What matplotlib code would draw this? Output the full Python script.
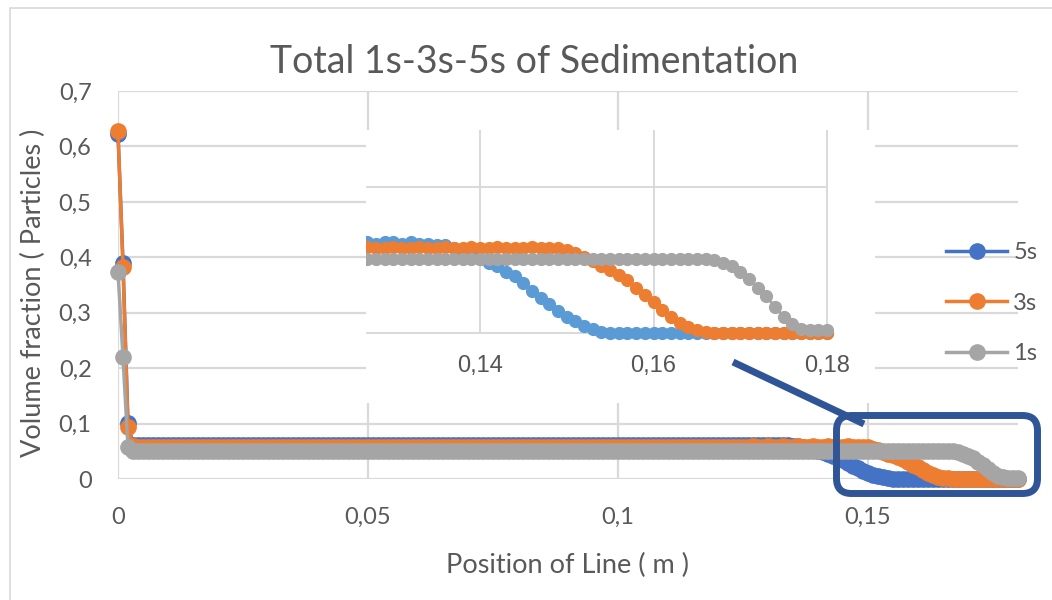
#!/usr/bin/env python3
"""
Sedimentation profiles: particle volume fraction along the line
after 1 s, 3 s and 5 s, with a zoomed view of the settling front.
"""

import numpy as np
import matplotlib.pyplot as plt
from matplotlib.lines import Line2D
from matplotlib.patches import Rectangle, FancyBboxPatch
from matplotlib.ticker import FuncFormatter
from matplotlib.transforms import IdentityTransform

W, H, DPI = 1052, 600, 100

# sample positions along the line (m)
position_m = np.linspace(0.0, 0.18, 181)

# volume fraction of particles at each position
frac_5s = [
    0.622, 0.390, 0.101, 0.062, 0.061, 0.061, 0.061, 0.061, 0.061, 0.061, 0.061, 0.061, 0.061, 0.061, 0.061,
    0.061, 0.061, 0.061, 0.061, 0.061, 0.061, 0.061, 0.061, 0.061, 0.061, 0.061, 0.061, 0.061, 0.061, 0.061,
    0.061, 0.061, 0.061, 0.061, 0.061, 0.061, 0.061, 0.061, 0.061, 0.061, 0.061, 0.061, 0.061, 0.061, 0.061,
    0.061, 0.061, 0.061, 0.061, 0.061, 0.061, 0.061, 0.061, 0.061, 0.061, 0.061, 0.061, 0.061, 0.061, 0.061,
    0.061, 0.061, 0.061, 0.061, 0.061, 0.061, 0.061, 0.061, 0.061, 0.061, 0.061, 0.061, 0.061, 0.061, 0.061,
    0.061, 0.061, 0.061, 0.061, 0.061, 0.061, 0.061, 0.061, 0.061, 0.061, 0.061, 0.061, 0.061, 0.061, 0.061,
    0.061, 0.061, 0.061, 0.061, 0.061, 0.061, 0.061, 0.061, 0.061, 0.061, 0.061, 0.061, 0.061, 0.061, 0.061,
    0.061, 0.061, 0.061, 0.061, 0.061, 0.061, 0.061, 0.061, 0.061, 0.061, 0.061, 0.061, 0.061, 0.061, 0.061,
    0.061, 0.061, 0.061, 0.061, 0.061, 0.061, 0.061, 0.062, 0.061, 0.062, 0.062, 0.061, 0.062, 0.061, 0.061,
    0.060, 0.060, 0.058, 0.056, 0.053, 0.051, 0.048, 0.046, 0.042, 0.039, 0.034, 0.029, 0.024, 0.020, 0.015,
    0.011, 0.008, 0.005, 0.003, 0.001, 0.000, 0.000, 0.000, 0.000, 0.000, 0.000, 0.000, 0.000, 0.000, 0.000,
    0.000, 0.000, 0.000, 0.000, 0.000, 0.000, 0.000, 0.000, 0.000, 0.000, 0.000, 0.000, 0.000, 0.000, 0.000,
    0.000,
]
frac_3s = [
    0.627, 0.383, 0.093, 0.059, 0.058, 0.058, 0.058, 0.058, 0.058, 0.058, 0.058, 0.058, 0.058, 0.058, 0.058,
    0.058, 0.058, 0.058, 0.058, 0.058, 0.058, 0.058, 0.058, 0.058, 0.058, 0.058, 0.058, 0.058, 0.058, 0.058,
    0.058, 0.058, 0.058, 0.058, 0.058, 0.058, 0.058, 0.058, 0.058, 0.058, 0.058, 0.058, 0.058, 0.058, 0.058,
    0.058, 0.058, 0.058, 0.058, 0.058, 0.058, 0.058, 0.058, 0.058, 0.058, 0.058, 0.058, 0.058, 0.058, 0.058,
    0.058, 0.058, 0.058, 0.058, 0.058, 0.058, 0.058, 0.058, 0.058, 0.058, 0.058, 0.058, 0.058, 0.058, 0.058,
    0.058, 0.058, 0.058, 0.058, 0.058, 0.058, 0.058, 0.058, 0.058, 0.058, 0.058, 0.058, 0.058, 0.058, 0.058,
    0.058, 0.058, 0.058, 0.058, 0.058, 0.058, 0.058, 0.058, 0.058, 0.058, 0.058, 0.058, 0.058, 0.058, 0.058,
    0.058, 0.058, 0.058, 0.058, 0.058, 0.058, 0.058, 0.058, 0.058, 0.058, 0.058, 0.058, 0.058, 0.058, 0.058,
    0.058, 0.058, 0.058, 0.058, 0.058, 0.058, 0.058, 0.059, 0.058, 0.058, 0.059, 0.058, 0.058, 0.059, 0.058,
    0.058, 0.059, 0.058, 0.058, 0.059, 0.058, 0.058, 0.059, 0.058, 0.058, 0.058, 0.059, 0.058, 0.058, 0.058,
    0.057, 0.055, 0.052, 0.049, 0.046, 0.043, 0.040, 0.036, 0.031, 0.026, 0.021, 0.016, 0.011, 0.007, 0.004,
    0.002, 0.001, 0.000, 0.000, 0.000, 0.000, 0.000, 0.000, 0.000, 0.000, 0.000, 0.000, 0.000, 0.000, 0.000,
    0.000,
]
frac_1s = [
    0.374, 0.220, 0.057, 0.051, 0.051, 0.051, 0.051, 0.051, 0.051, 0.051, 0.051, 0.051, 0.051, 0.051, 0.051,
    0.051, 0.051, 0.051, 0.051, 0.051, 0.051, 0.051, 0.051, 0.051, 0.051, 0.051, 0.051, 0.051, 0.051, 0.051,
    0.051, 0.051, 0.051, 0.051, 0.051, 0.051, 0.051, 0.051, 0.051, 0.051, 0.051, 0.051, 0.051, 0.051, 0.051,
    0.051, 0.051, 0.051, 0.051, 0.051, 0.051, 0.051, 0.051, 0.051, 0.051, 0.051, 0.051, 0.051, 0.051, 0.051,
    0.051, 0.051, 0.051, 0.051, 0.051, 0.051, 0.051, 0.051, 0.051, 0.051, 0.051, 0.051, 0.051, 0.051, 0.051,
    0.051, 0.051, 0.051, 0.051, 0.051, 0.051, 0.051, 0.051, 0.051, 0.051, 0.051, 0.051, 0.051, 0.051, 0.051,
    0.051, 0.051, 0.051, 0.051, 0.051, 0.051, 0.051, 0.051, 0.051, 0.051, 0.051, 0.051, 0.051, 0.051, 0.051,
    0.051, 0.051, 0.051, 0.051, 0.051, 0.051, 0.051, 0.051, 0.051, 0.051, 0.051, 0.051, 0.051, 0.051, 0.051,
    0.051, 0.051, 0.051, 0.051, 0.051, 0.051, 0.051, 0.051, 0.051, 0.051, 0.051, 0.051, 0.051, 0.051, 0.051,
    0.051, 0.051, 0.051, 0.051, 0.051, 0.051, 0.051, 0.051, 0.051, 0.051, 0.051, 0.051, 0.051, 0.051, 0.051,
    0.051, 0.051, 0.051, 0.051, 0.051, 0.051, 0.051, 0.051, 0.051, 0.051, 0.051, 0.051, 0.051, 0.051, 0.051,
    0.051, 0.051, 0.050, 0.048, 0.046, 0.042, 0.037, 0.031, 0.025, 0.018, 0.011, 0.006, 0.003, 0.002, 0.002,
    0.002,
]

series_labels = ["5s", "3s", "1s"]
series_colors = ["#4472C4", "#ED7D31", "#A5A5A5"]
inset_colors = ["#5B9BD5", "#ED7D31", "#A5A5A5"]

main_xticks = [0, 0.05, 0.1, 0.15]
main_yticks = [0, 0.1, 0.2, 0.3, 0.4, 0.5, 0.6, 0.7]
inset_xticks = [0.14, 0.16, 0.18]
inset_ygrid = [0, 0.1]

TEXT = "#595959"
GRID = "#D9D9D9"
NAVY = "#2F5597"
plt.rcParams['font.family'] = ['Lato', 'DejaVu Sans']


def fig_box(x0, y0, x1, y1):
    """Pixel box (top-left origin) -> figure fraction rect"""
    return [x0 / W, 1 - y1 / H, (x1 - x0) / W, (y1 - y0) / H]


def comma(v, _pos=None):
    return f"{v:g}".replace(".", ",")


def main():
    fig = plt.figure(figsize=(W / DPI, H / DPI), dpi=DPI)
    series = [frac_5s, frac_3s, frac_1s]

    # chart area border
    fig.patches.append(Rectangle((10 / W, -0.1), 1.2, 1 - 8 / H + 0.1, transform=fig.transFigure,
                                 fill=False, edgecolor=GRID, lw=1.2, zorder=0))

    # main plot
    ax = fig.add_axes(fig_box(118, 91, 1018, 479))
    handles = []
    for vals, lab, col in zip(series, series_labels, series_colors):
        h, = ax.plot(position_m, vals, color=col, lw=2.5, marker="o", markersize=11,
                     label=lab, clip_on=False, zorder=3)
        handles.append(h)
    ax.set_xlim(0, 0.18)
    ax.set_ylim(0, 0.7)
    ax.set_xticks(main_xticks)
    ax.set_yticks(main_yticks)
    ax.xaxis.set_major_formatter(FuncFormatter(comma))
    ax.yaxis.set_major_formatter(FuncFormatter(comma))
    ax.tick_params(length=0, labelsize=17, labelcolor=TEXT)
    ax.tick_params(axis="y", pad=19)
    ax.tick_params(axis="x", pad=20)
    ax.grid(True, color=GRID, lw=1.6)
    ax.set_axisbelow(True)
    for s in ax.spines.values():
        s.set_visible(False)

    fig.text(534 / W, 1 - 62 / H, "Total 1s-3s-5s of Sedimentation", ha="center", va="center",
             fontsize=27, color=TEXT)
    fig.text(567 / W, 1 - 565 / H, "Position of Line ( m )", ha="center", va="center",
             fontsize=19.5, color=TEXT)
    fig.text(33 / W, 1 - 293 / H, "Volume fraction ( Particles )", ha="center", va="center",
             rotation=90, fontsize=19.5, color=TEXT)

    fig.legend(handles=handles, loc="center left", bbox_to_anchor=(946 / W, 1 - 303 / H),
               frameon=False, fontsize=17, handlelength=2.6, handletextpad=0.25,
               labelspacing=1.25, borderpad=0, borderaxespad=0, labelcolor=TEXT)

    # white backing for the zoomed view
    fig.patches.append(Rectangle((366 / W, 1 - 403 / H), (875 - 366) / W, (403 - 130) / H,
                                 transform=fig.transFigure, facecolor="white", edgecolor="none",
                                 zorder=1))

    # zoomed view of the settling front
    ins = fig.add_axes(fig_box(366, 130, 875, 340))
    ins.set_zorder(2)
    for vals, col in zip(series, inset_colors):
        ins.plot(position_m, vals, color=col, lw=2, marker="o", markersize=8.5, zorder=3)
    ins.set_xlim(0.12686, 0.18553)
    ins.set_ylim(-0.0048, 0.139)
    ins.vlines(inset_xticks, 0, 0.139, color=GRID, lw=1.4, zorder=1)
    ins.hlines(inset_ygrid, 0.12686, 0.18, color=GRID, lw=1.4, zorder=1)
    ins.set_xticks(inset_xticks)
    ins.xaxis.set_major_formatter(FuncFormatter(comma))
    ins.set_yticks([])
    ins.tick_params(length=0, pad=11)
    for lab in ins.get_xticklabels():
        lab.set_fontfamily("Liberation Sans")
        lab.set_fontsize(17)
        lab.set_color("#555555")
    for s in ins.spines.values():
        s.set_visible(False)

    # pointer from the zoomed view to the highlighted region
    fig.lines.append(Line2D([733, 864], [H - 362, H - 424], transform=IdentityTransform(),
                            color=NAVY, lw=5, solid_capstyle="butt", zorder=5))
    fig.patches.append(FancyBboxPatch((836.5, H - 493.5), 201, 78,
                                      boxstyle="round,pad=0,rounding_size=15",
                                      transform=IdentityTransform(), fill=False,
                                      edgecolor=NAVY, lw=5, zorder=6))

    fig.savefig("out.png", dpi=DPI)


if __name__ == "__main__":
    main()
